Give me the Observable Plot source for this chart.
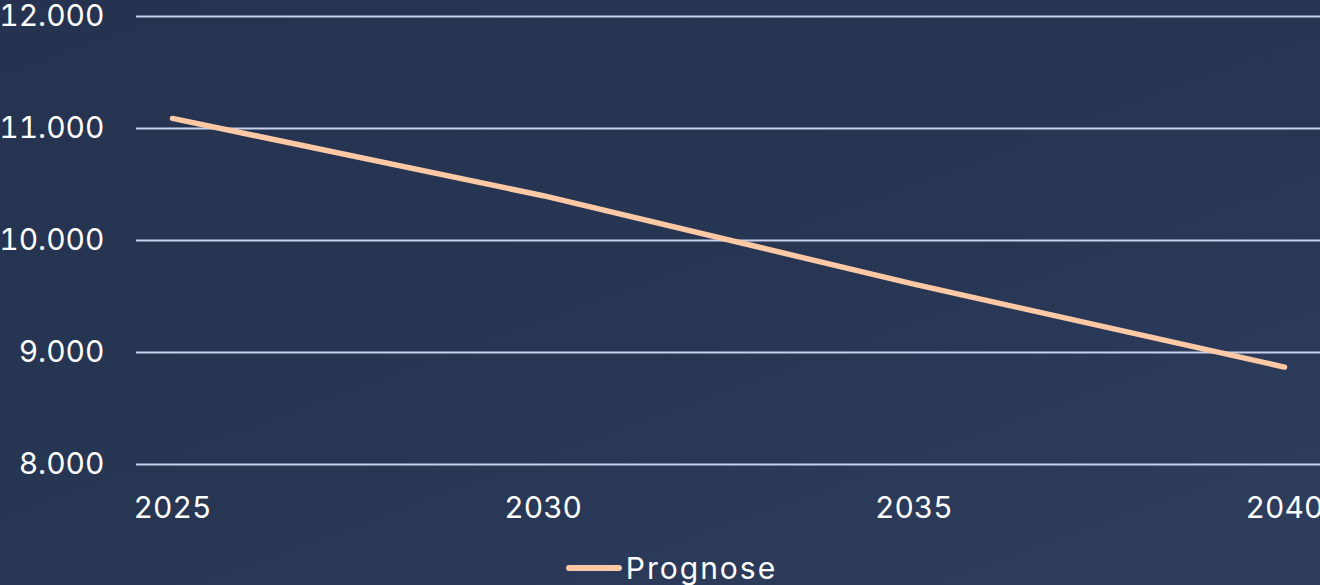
<!DOCTYPE html>
<html>
<head>
<meta charset="utf-8">
<script src="https://cdn.jsdelivr.net/npm/d3@7"></script>
<script src="https://cdn.jsdelivr.net/npm/@observablehq/plot@0.6"></script>
<style>
  html, body { margin: 0; padding: 0; }
  body {
    width: 1320px; height: 585px; overflow: hidden;
    background: linear-gradient(160deg, #253350 0%, #273653 55%, #2f3e5e 100%);
    font-family: Inter, "Open Sans", sans-serif;
  }
  #chart svg { display: block; background: transparent; }
  #legend {
    height: 35px; display: flex; align-items: center; justify-content: center;
    color: #ffffff; font-size: 30px; gap: 4px;
  }
  #legend .txt { letter-spacing: 2px; }
  #legend .sw { width: 56px; height: 6px; border-radius: 3px; background: #ffc9a6; margin-left: 23px; }
</style>
</head>
<body>
<div id="chart"></div>
<div id="legend"><span class="sw"></span><span class="txt">Prognose</span></div>
<script>
const years = [2025, 2030, 2035, 2040];
const prognose = [11090, 10400, 9610, 8870];
const yTicks = [8000, 9000, 10000, 11000, 12000];
const xTicks = [2025, 2030, 2035, 2040];
const seriesName = "Prognose";

const data = years.map((y, i) => ({year: y, value: prognose[i], series: seriesName}));
const de = d3.formatLocale({decimal: ",", thousands: ".", grouping: [3], currency: ["", " €"]});
const fmt = de.format(",");

const chart = Plot.plot({
  width: 1320,
  height: 550,
  marginTop: 16,
  marginBottom: 86,
  marginLeft: 136,
  marginRight: 0,
  style: {fontFamily: "Inter, 'Open Sans', sans-serif", fontSize: "30px", color: "#ffffff", background: "transparent", overflow: "visible"},
  x: {domain: [2025, 2040], insetLeft: 36, insetRight: 36},
  y: {domain: [8000, 12000]},
  marks: [
    Plot.ruleY(yTicks, {stroke: "#c9d1ea", strokeWidth: 2, strokeOpacity: 1}),
    Plot.axisY({ticks: yTicks, tickFormat: fmt, tickSize: 0, tickPadding: 32, label: null, fill: "#ffffff", fontSize: 30}),
    Plot.axisX({ticks: xTicks, tickFormat: d => String(d), tickSize: 0, tickPadding: 32, label: null, fill: "#ffffff", fontSize: 30}),
    Plot.line(data, {x: "year", y: "value", stroke: "#ffc9a6", strokeWidth: 5.5, strokeLinecap: "round", strokeLinejoin: "round"})
  ]
});
document.getElementById("chart").appendChild(chart);
</script>
</body>
</html>
